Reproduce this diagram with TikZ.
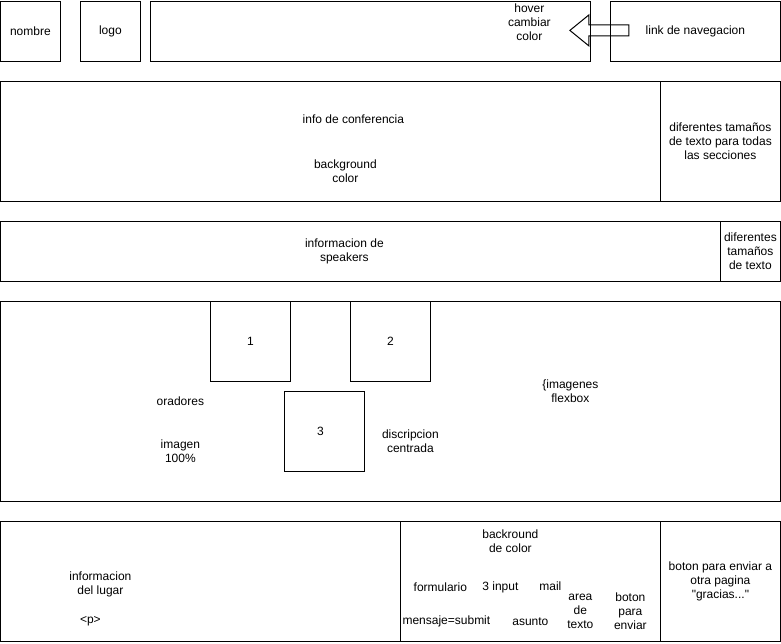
\documentclass[tikz,border=0pt]{standalone}
\usepackage{fontspec}
\setmainfont{Liberation Sans}[Ligatures=TeXOff]
\begin{document}
\begin{tikzpicture}[x=1pt, y=-1pt, line width=1pt,
    caja/.style={draw, inner sep=0pt, anchor=north west, align=center},
    texto/.style={inner sep=0pt, align=center, font=\fontsize{12}{14}\selectfont}]
    \useasboundingbox (0.6,0.6) rectangle (781.6,643.6);
    % Cabecera
    \node[caja, minimum width=60, minimum height=60] (nombre) at (0.5,1.5) {};
    \node[texto] (nombretxt) at (31,32) {nombre};
    \node[caja, minimum width=60, minimum height=60] (logo) at (80.5,1.5) {};
    \node[texto] (logotxt) at (111,32) {logo};
    \node[caja, minimum width=440, minimum height=60] (barra) at (150.5,1.5) {};
    \node[texto] (hover) at (530,23) {hover\\cambiar\\color};
    \node[caja, minimum width=170, minimum height=60] (nav) at (610.5,1.5) {};
    \node[texto] (navtxt) at (696,32) {link de navegacion};
    % Flecha de bloque
    \draw (629.5,25.5) -- (589.5,25.5) -- (589.5,15.5) -- (570.5,31) -- (589.5,46.5)
        -- (589.5,36.5) -- (629.5,36.5) -- cycle;

    % Info de conferencia
    \node[caja, minimum width=660, minimum height=120] (info) at (0.5,81.5) {};
    \node[caja, minimum width=120, minimum height=120] (tam) at (660.5,81.5) {};
    \node[texto] (infotxt) at (354,120) {info de conferencia};
    \node[texto] (fondo) at (346,172) {background\\color};
    \node[texto] (tamtxt) at (721,142) {diferentes tamaños\\de texto para todas\\las secciones};

    % Speakers
    \node[caja, minimum width=720, minimum height=60] (speak) at (0.5,221.5) {};
    \node[caja, minimum width=60, minimum height=60] (tam2) at (720.5,221.5) {};
    \node[texto] (speaktxt) at (345,252) {informacion de\\speakers};
    \node[texto] (tam2txt) at (751,252) {diferentes\\tamaños\\de texto};

    % Oradores
    \node[caja, minimum width=780, minimum height=200] (orad) at (0.5,301.5) {};
    \node[caja, minimum width=80, minimum height=80] (img1) at (210.5,301.5) {};
    \node[texto] (uno) at (251,342) {1};
    \node[caja, minimum width=80, minimum height=80] (img2) at (350.5,301.5) {};
    \node[texto] (dos) at (391,342) {2};
    \node[caja, minimum width=80, minimum height=80] (img3) at (284.5,391.5) {};
    \node[texto] (tres) at (321,432) {3};
    \node[texto] (oradtxt) at (181,402) {oradores};
    \node[texto] (imagen) at (181,452) {imagen\\100\%};
    \node[texto] (descr) at (411,442) {discripcion\\centrada};
    \node[texto] (flex) at (571,392) {\{imagenes\\flexbox};

    % Lugar y formulario
    \node[caja, minimum width=400, minimum height=120] (lugar) at (0.5,521.5) {};
    \node[caja, minimum width=260, minimum height=120] (form) at (400.5,521.5) {};
    \node[caja, minimum width=120, minimum height=120] (boton) at (660.5,521.5) {};
    \node[texto] (lugartxt) at (101,585) {informacion\\del lugar};
    \node[texto] (ptag) at (91,622) {<p>};
    \node[texto] (backr) at (511,542) {backround\\de color};
    \node[texto] (formtxt) at (441,588) {formulario};
    \node[texto] (input) at (501,588) {3 input};
    \node[texto] (mail) at (551,587) {mail};
    \node[texto] (mensaje) at (447,622) {mensaje=submit};
    \node[texto] (asunto) at (531,622) {asunto};
    \node[texto] (area) at (581,612) {area\\de\\texto};
    \node[texto] (enviar) at (631,612) {boton\\para\\enviar};
    \node[texto] (botontxt) at (721,582) {boton para enviar a\\otra pagina\\"gracias..."};
\end{tikzpicture}
\end{document}
